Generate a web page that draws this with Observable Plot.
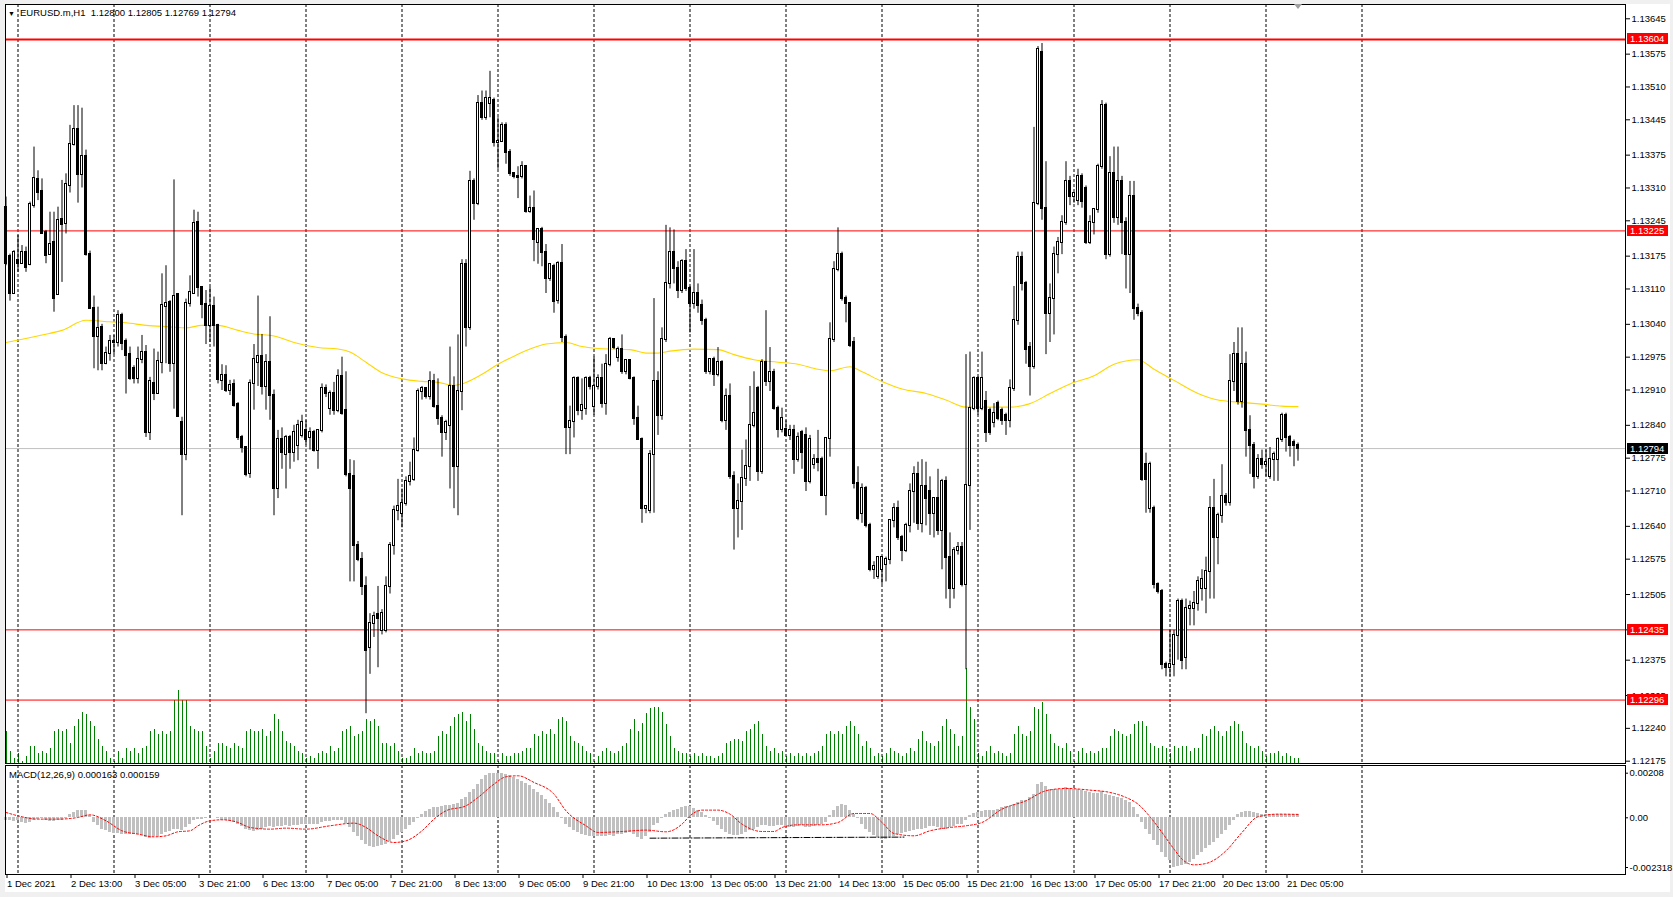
<!DOCTYPE html>
<html><head><meta charset="utf-8">
<script src="https://cdn.jsdelivr.net/npm/d3@7"></script>
<script src="https://cdn.jsdelivr.net/npm/@observablehq/plot@0.6"></script>
<style>
html,body{margin:0;padding:0;background:#f0f0f0;}
#wrap{position:relative;width:1673px;height:897px;overflow:hidden;background:#f0f0f0;font-family:"Liberation Sans",Arial,sans-serif;color:#000;}
#paper{position:absolute;left:5px;top:4px;width:1665px;height:888px;background:#fff;}
.tag{position:absolute;left:1627px;width:41px;height:11px;color:#fff;font-size:9.5px;line-height:11px;padding-left:3px;box-sizing:border-box;white-space:nowrap;}
.lbl{position:absolute;font-size:9.5px;line-height:11px;white-space:nowrap;}
</style></head><body>
<div id="wrap"><div id="paper"></div></div>
<script>
// ---------- DATA (EURUSD.m H1, bars 1 Dec 21:00 .. 21 Dec 08:00) ----------
const open = [
1.13272,1.13174,1.13102,1.13166,1.13161,1.13183,1.13158,1.13275,1.13326,1.13303,1.13222,1.13179,
1.13203,1.13100,1.13247,1.13239,1.13315,1.13396,1.13425,1.13337,1.13373,1.13178,1.13071,1.13016,
1.13034,1.12963,1.12983,1.13006,1.13004,1.13057,1.13006,1.12981,1.12952,1.12932,1.12971,1.12985,
1.12826,1.12923,1.12903,1.12965,1.13076,1.13084,1.12962,1.13099,1.12845,1.12782,1.13082,1.13102,
1.13242,1.13113,1.13080,1.13038,1.13075,1.13038,1.12929,1.12939,1.12909,1.12921,1.12882,1.12815,
1.12796,1.12745,1.12922,1.12965,1.12977,1.12917,1.12965,1.12900,1.12714,1.12811,1.12782,1.12816,
1.12787,1.12800,1.12820,1.12830,1.12815,1.12825,1.12791,1.12830,1.12912,1.12874,1.12903,1.12870,
1.12936,1.12869,1.12743,1.12738,1.12603,1.12574,1.12521,1.12400,1.12448,1.12465,1.12434,1.12434,
1.12521,1.12603,1.12671,1.12666,1.12685,1.12729,1.12733,1.12791,1.12907,1.12912,1.12898,1.12927,
1.12878,1.12854,1.12825,1.12840,1.12917,1.12758,1.12907,1.13159,1.13033,1.13323,1.13280,1.13478,
1.13449,1.13478,1.13483,1.13401,1.13403,1.13434,1.13381,1.13338,1.13333,1.13333,1.13352,1.13263,
1.13270,1.13202,1.13227,1.13183,1.13130,1.13154,1.13088,1.13161,1.13014,1.12835,1.12847,1.12932,
1.12869,1.12874,1.12932,1.12878,1.12917,1.12932,1.12883,1.12961,1.13009,1.12975,1.12990,1.12946,
1.12968,1.12932,1.12854,1.12811,1.12675,1.12671,1.12782,1.12927,1.12859,1.13009,1.13120,1.13183,
1.13150,1.13106,1.13164,1.13110,1.13081,1.13101,1.13077,1.13048,1.12946,1.12970,1.12941,1.12965,
1.12849,1.12898,1.12738,1.12675,1.12690,1.12735,1.12758,1.12840,1.12912,1.12748,1.12965,1.12927,
1.12944,1.12874,1.12832,1.12832,1.12820,1.12830,1.12772,1.12825,1.12820,1.12729,1.12762,1.12772,
1.12772,1.12702,1.12813,1.13009,1.13149,1.13178,1.13091,1.13081,1.13004,1.12724,1.12666,1.12714,
1.12641,1.12554,1.12540,1.12554,1.12564,1.12574,1.12651,1.12675,1.12617,1.12593,1.12641,1.12709,
1.12743,1.12646,1.12719,1.12709,1.12666,1.12695,1.12632,1.12729,1.12579,1.12516,1.12593,1.12598,
1.12525,1.12720,1.12874,1.12932,1.12874,1.12888,1.12869,1.12845,1.12883,1.12869,1.12859,1.12849,
1.12912,1.13048,1.13173,1.13120,1.12994,1.12956,1.13280,1.13579,1.13270,1.13062,1.13091,1.13178,
1.13202,1.13241,1.13323,1.13294,1.13285,1.13333,1.13309,1.13202,1.13241,1.13268,1.13352,1.13473,
1.13178,1.13338,1.13251,1.13323,1.13241,1.13178,1.13294,1.13072,1.13062,1.12762,1.12675,1.12675,
1.12525,1.12511,1.12366,1.12361,1.12366,1.12424,1.12492,1.12380,1.12477,1.12477,1.12487,1.12516,
1.12516,1.12550,1.12675,1.12617,1.12661,1.12699,1.12688,1.12927,1.12980,1.12888,1.12961,1.12830,
1.12801,1.12738,1.12772,1.12762,1.12738,1.12772,1.12772,1.12811,1.12859,1.12815,1.12806,1.12800];
const high = [
1.13292,1.13179,1.13186,1.13216,1.13196,1.13193,1.13282,1.13391,1.13344,1.13328,1.13226,1.13262,
1.13262,1.13272,1.13325,1.13338,1.13434,1.13473,1.13473,1.13468,1.13385,1.13185,1.13096,1.13074,
1.13040,1.12995,1.13018,1.13018,1.13067,1.13062,1.13011,1.12995,1.12958,1.12995,1.13018,1.12998,
1.12935,1.12991,1.12985,1.13140,1.13156,1.13087,1.13326,1.13100,1.12856,1.13090,1.13136,1.13266,
1.13262,1.13115,1.13107,1.13113,1.13094,1.13040,1.12960,1.12958,1.12929,1.12930,1.12885,1.12820,
1.12798,1.12930,1.13000,1.13096,1.13020,1.12980,1.13055,1.12910,1.12830,1.12835,1.12820,1.12820,
1.12840,1.12850,1.12860,1.12849,1.12835,1.12830,1.12830,1.12922,1.12920,1.12908,1.12925,1.12950,
1.12975,1.12946,1.12772,1.12770,1.12610,1.12588,1.12540,1.12467,1.12470,1.12521,1.12475,1.12540,
1.12608,1.12680,1.12733,1.12714,1.12738,1.12767,1.12815,1.12912,1.12917,1.12915,1.12946,1.12941,
1.12932,1.12859,1.12850,1.12995,1.12936,1.13019,1.13168,1.13168,1.13343,1.13328,1.13493,1.13502,
1.13502,1.13541,1.13488,1.13449,1.13439,1.13439,1.13386,1.13340,1.13352,1.13362,1.13352,1.13294,
1.13304,1.13227,1.13232,1.13198,1.13159,1.13159,1.13164,1.13198,1.13019,1.12878,1.12936,1.12936,
1.12932,1.12936,1.12937,1.12975,1.12940,1.12961,1.12980,1.13014,1.13010,1.12995,1.13019,1.12970,
1.12970,1.12936,1.12878,1.12815,1.12680,1.12790,1.13091,1.12946,1.13033,1.13236,1.13231,1.13227,
1.13164,1.13168,1.13188,1.13115,1.13188,1.13120,1.13088,1.13052,1.12970,1.12975,1.12994,1.12968,
1.12912,1.12922,1.12748,1.12724,1.12791,1.12811,1.12917,1.12946,1.12917,1.12970,1.13067,1.12994,
1.12951,1.12878,1.12874,1.12849,1.12840,1.12840,1.12825,1.12830,1.12835,1.12820,1.12782,1.12830,
1.12777,1.12815,1.13043,1.13164,1.13231,1.13183,1.13096,1.13083,1.13014,1.12758,1.12724,1.12719,
1.12646,1.12570,1.12579,1.12579,1.12579,1.12651,1.12685,1.12690,1.12622,1.12646,1.12724,1.12758,
1.12767,1.12772,1.12767,1.12738,1.12695,1.12753,1.12733,1.12738,1.12627,1.12598,1.12608,1.12608,
1.12980,1.12985,1.12936,1.12936,1.12985,1.12907,1.12874,1.12883,1.12888,1.12874,1.12864,1.12930,
1.13115,1.13183,1.13183,1.13125,1.13004,1.13430,1.13590,1.13596,1.13362,1.13120,1.13193,1.13212,
1.13255,1.13362,1.13333,1.13300,1.13347,1.13338,1.13314,1.13255,1.13268,1.13357,1.13483,1.13478,
1.13372,1.13391,1.13391,1.13333,1.13251,1.13323,1.13323,1.13080,1.13067,1.12785,1.12767,1.12680,
1.12528,1.12515,1.12371,1.12434,1.12434,1.12496,1.12496,1.12496,1.12492,1.12511,1.12540,1.12554,
1.12579,1.12699,1.12733,1.12666,1.12762,1.12705,1.12980,1.13004,1.13033,1.13033,1.12985,1.12859,
1.12806,1.12782,1.12791,1.12791,1.12796,1.12787,1.12815,1.12864,1.12864,1.12820,1.12811,1.12805];
const low = [
1.13156,1.13086,1.13100,1.13143,1.13160,1.13143,1.13156,1.13270,1.13285,1.13219,1.13160,1.13178,
1.13064,1.13099,1.13123,1.13219,1.13300,1.13393,1.13280,1.13310,1.13175,1.13070,1.12952,1.12948,
1.12948,1.12960,1.12967,1.12980,1.12995,1.12988,1.12902,1.12929,1.12922,1.12922,1.12962,1.12816,
1.12810,1.12889,1.12902,1.12942,1.12962,1.12945,1.12872,1.12856,1.12661,1.12770,1.13074,1.13100,
1.13094,1.13051,1.13000,1.13004,1.12995,1.12922,1.12909,1.12905,1.12899,1.12876,1.12810,1.12785,
1.12738,1.12735,1.12870,1.12917,1.12900,1.12870,1.12850,1.12661,1.12695,1.12753,1.12714,1.12753,
1.12767,1.12770,1.12815,1.12801,1.12791,1.12787,1.12753,1.12825,1.12895,1.12860,1.12860,1.12865,
1.12860,1.12738,1.12530,1.12530,1.12570,1.12503,1.12269,1.12347,1.12420,1.12360,1.12425,1.12429,
1.12506,1.12583,1.12651,1.12637,1.12680,1.12720,1.12729,1.12787,1.12890,1.12892,1.12890,1.12874,
1.12840,1.12777,1.12810,1.12714,1.12675,1.12661,1.12869,1.12995,1.13028,1.13246,1.13275,1.13444,
1.13444,1.13449,1.13391,1.13347,1.13401,1.13357,1.13333,1.13328,1.13289,1.13328,1.13260,1.13260,
1.13164,1.13159,1.13154,1.13101,1.13125,1.13062,1.13080,1.13004,1.12782,1.12782,1.12815,1.12859,
1.12850,1.12860,1.12910,1.12860,1.12910,1.12874,1.12860,1.12956,1.12990,1.12965,1.12941,1.12940,
1.12930,1.12840,1.12810,1.12646,1.12665,1.12665,1.12666,1.12820,1.12850,1.13004,1.13110,1.13120,
1.13091,1.13101,1.13105,1.13023,1.13070,1.13062,1.13038,1.12941,1.12940,1.12917,1.12936,1.12845,
1.12830,1.12733,1.12593,1.12617,1.12632,1.12719,1.12729,1.12835,1.12729,1.12743,1.12917,1.12907,
1.12870,1.12815,1.12825,1.12820,1.12810,1.12743,1.12767,1.12753,1.12709,1.12724,1.12753,1.12748,
1.12700,1.12661,1.12777,1.13004,1.13144,1.13086,1.13043,1.12994,1.12714,1.12651,1.12646,1.12637,
1.12550,1.12535,1.12535,1.12525,1.12530,1.12564,1.12637,1.12612,1.12570,1.12588,1.12627,1.12646,
1.12632,1.12627,1.12641,1.12622,1.12617,1.12622,1.12554,1.12496,1.12477,1.12496,1.12583,1.12520,
1.12356,1.12632,1.12869,1.12860,1.12869,1.12806,1.12820,1.12835,1.12849,1.12840,1.12820,1.12835,
1.12907,1.13038,1.13106,1.12961,1.12898,1.12951,1.13275,1.13246,1.12980,1.13004,1.13019,1.13140,
1.13178,1.13236,1.13275,1.13280,1.13275,1.13270,1.13198,1.13198,1.13217,1.13260,1.13347,1.13168,
1.13173,1.13240,1.13236,1.13178,1.13110,1.13101,1.13048,1.13055,1.12729,1.12666,1.12666,1.12516,
1.12506,1.12356,1.12342,1.12342,1.12342,1.12375,1.12356,1.12356,1.12443,1.12443,1.12472,1.12492,
1.12467,1.12496,1.12496,1.12564,1.12646,1.12680,1.12680,1.12907,1.12880,1.12874,1.12777,1.12743,
1.12714,1.12733,1.12753,1.12738,1.12733,1.12729,1.12729,1.12806,1.12787,1.12777,1.12758,1.12769];
const close = [
1.13160,1.13102,1.13183,1.13161,1.13183,1.13153,1.13277,1.13328,1.13301,1.13220,1.13176,1.13199,
1.13092,1.13245,1.13237,1.13317,1.13396,1.13425,1.13337,1.13373,1.13178,1.13072,1.13016,1.13031,
1.12962,1.12983,1.13006,1.13004,1.13057,1.13003,1.12978,1.12932,1.12932,1.12971,1.12985,1.12826,
1.12927,1.12903,1.12966,1.13077,1.13082,1.12962,1.13096,1.12857,1.12782,1.13081,1.13103,1.13240,
1.13112,1.13080,1.13038,1.13075,1.13038,1.12930,1.12939,1.12909,1.12919,1.12879,1.12815,1.12796,
1.12743,1.12922,1.12970,1.12977,1.12917,1.12965,1.12900,1.12714,1.12811,1.12787,1.12816,1.12787,
1.12825,1.12840,1.12845,1.12811,1.12825,1.12791,1.12830,1.12912,1.12903,1.12903,1.12870,1.12936,
1.12864,1.12743,1.12714,1.12603,1.12574,1.12521,1.12395,1.12448,1.12461,1.12458,1.12467,1.12521,
1.12603,1.12671,1.12680,1.12685,1.12729,1.12738,1.12791,1.12907,1.12912,1.12898,1.12927,1.12878,
1.12854,1.12825,1.12845,1.12917,1.12758,1.12907,1.13159,1.13033,1.13323,1.13280,1.13478,1.13449,
1.13488,1.13488,1.13401,1.13403,1.13434,1.13381,1.13338,1.13333,1.13330,1.13352,1.13263,1.13270,
1.13207,1.13227,1.13183,1.13130,1.13159,1.13086,1.13161,1.13014,1.12835,1.12847,1.12932,1.12869,
1.12880,1.12932,1.12917,1.12917,1.12932,1.12883,1.12961,1.13009,1.12994,1.12990,1.12946,1.12968,
1.12932,1.12854,1.12811,1.12675,1.12680,1.12782,1.12927,1.12859,1.13009,1.13120,1.13183,1.13150,
1.13106,1.13164,1.13110,1.13081,1.13101,1.13077,1.13048,1.12946,1.12970,1.12941,1.12965,1.12849,
1.12898,1.12738,1.12675,1.12690,1.12735,1.12758,1.12840,1.12864,1.12748,1.12965,1.12927,1.12944,
1.12874,1.12832,1.12854,1.12820,1.12830,1.12772,1.12815,1.12787,1.12729,1.12811,1.12772,1.12767,
1.12702,1.12813,1.13009,1.13149,1.13178,1.13091,1.13081,1.12999,1.12724,1.12656,1.12714,1.12641,
1.12554,1.12560,1.12579,1.12579,1.12574,1.12651,1.12675,1.12617,1.12593,1.12641,1.12709,1.12743,
1.12646,1.12719,1.12695,1.12666,1.12695,1.12632,1.12729,1.12579,1.12516,1.12593,1.12598,1.12525,
1.12720,1.12874,1.12932,1.12874,1.12932,1.12825,1.12825,1.12864,1.12854,1.12849,1.12849,1.12912,
1.13048,1.13173,1.13120,1.12990,1.12956,1.13280,1.13584,1.13270,1.13062,1.13091,1.13178,1.13202,
1.13241,1.13323,1.13294,1.13299,1.13333,1.13283,1.13202,1.13241,1.13268,1.13352,1.13473,1.13178,
1.13338,1.13251,1.13323,1.13241,1.13178,1.13294,1.13072,1.13062,1.12733,1.12733,1.12762,1.12525,
1.12511,1.12366,1.12361,1.12366,1.12424,1.12492,1.12375,1.12477,1.12482,1.12487,1.12530,1.12535,
1.12550,1.12675,1.12617,1.12661,1.12699,1.12688,1.12927,1.12980,1.12888,1.12961,1.12830,1.12801,
1.12738,1.12772,1.12762,1.12767,1.12772,1.12782,1.12811,1.12859,1.12815,1.12801,1.12800,1.12794];
// tick volume (hundreds of ticks)
const volume = [
32,12,5,10,2,7,17,17,10,12,10,15, 32,34,32,34,20,37,44,51,49,42,37,24,
17,12,5,2,12,5,15,12,15,10,15,17, 32,34,29,32,29,32,63,73,63,63,37,34,
32,32,17,5,12,20,20,17,15,20,17,15, 32,34,32,32,34,27,32,49,44,32,22,20,
17,12,10,5,7,5,10,12,10,17,12,15, 32,34,37,27,29,32,44,42,44,37,20,20,
17,20,12,5,5,7,15,10,12,10,10,12, 27,32,29,37,46,49,51,42,49,34,20,17,
12,10,10,2,10,7,7,10,10,12,15,15, 29,27,32,29,34,29,44,46,42,27,22,20,
17,12,10,2,7,12,15,12,10,12,17,20, 34,44,32,40,50,55,56,56,51,39,27,15,
12,10,10,7,10,7,10,7,7,5,7,10, 20,22,24,24,22,32,34,39,42,29,17,12,
15,10,12,7,10,7,10,7,10,7,10,12, 17,29,32,29,32,29,37,42,37,29,17,22,
15,7,10,7,10,15,12,10,7,10,15,12, 24,32,22,20,17,22,37,44,34,29,17,27,
95,56,44,10,7,12,17,10,12,10,7,10, 29,37,29,27,32,56,54,61,49,29,20,17,
15,20,12,2,12,15,10,12,10,12,15,15, 27,34,32,29,27,29,39,42,42,37,20,17,
15,17,15,10,17,15,17,17,12,15,15,29, 27,34,37,32,27,32,37,42,39,32,20,17,
15,17,12,7,10,10,12,7,10,7,5,5];
// MACD(12,26,9) main (histogram)
const macd = [
-0.000109,-0.00014,-0.000171,-0.00014,-0.000233,-0.000264,-0.000218,-0.00014,-0.000078,-0.000047,-0.000109,-0.000171,
-0.000187,-0.00014,-0.000109,-0.000016,0.00014,0.000249,0.000327,0.000358,0.000327,0.000093,-0.000218,-0.000373,
-0.000529,-0.000606,-0.000684,-0.000731,-0.000731,-0.000762,-0.000762,-0.000793,-0.000793,-0.000793,-0.00084,-0.000917,
-0.000949,-0.000886,-0.000855,-0.000762,-0.000684,-0.000638,-0.000529,-0.000529,-0.000606,-0.000451,-0.000327,-0.00014,
-0.000078,-0.000078,-0.000047,0.000016,0.000016,-0.000016,-0.000109,-0.00014,-0.000171,-0.000218,-0.000327,-0.00042,
-0.000529,-0.000606,-0.000638,-0.000606,-0.000529,-0.000451,-0.000389,-0.000451,-0.00042,-0.000389,-0.000358,-0.000389,
-0.000373,-0.000358,-0.000295,-0.000295,-0.000327,-0.000327,-0.000295,-0.000233,-0.000171,-0.000171,-0.00014,-0.000109,
-0.000109,-0.000264,-0.000451,-0.000684,-0.000886,-0.001073,-0.00126,-0.001353,-0.001384,-0.001353,-0.001306,-0.001228,
-0.001104,-0.000995,-0.00084,-0.000684,-0.000529,-0.000373,-0.000218,-0.000016,0.000171,0.000295,0.000404,0.000482,
0.000482,0.000513,0.00056,0.000591,0.000606,0.000669,0.000871,0.000949,0.001182,0.001337,0.001571,0.001804,
0.001959,0.002068,0.00208,0.00208,0.002068,0.002006,0.001959,0.001882,0.001804,0.001695,0.001602,0.001493,
0.001337,0.001182,0.001026,0.000871,0.000669,0.000482,0.000249,-0.000016,-0.000295,-0.000451,-0.000606,-0.000684,
-0.000793,-0.00084,-0.000855,-0.000886,-0.000886,-0.000886,-0.000855,-0.000824,-0.000855,-0.000793,-0.000762,-0.000731,
-0.000684,-0.000793,-0.000917,-0.000995,-0.000886,-0.000684,-0.000373,-0.000264,-0.000016,0.000171,0.000249,0.000327,
0.000404,0.000482,0.000513,0.000513,0.000451,0.000358,0.000249,0.000093,-0.000016,-0.000171,-0.000373,-0.000529,
-0.000684,-0.000762,-0.00084,-0.00084,-0.000793,-0.000684,-0.000606,-0.000529,-0.000451,-0.000373,-0.000373,-0.00042,
-0.000389,-0.000358,-0.000373,-0.00042,-0.000451,-0.000451,-0.00042,-0.000373,-0.000451,-0.000451,-0.00042,-0.000373,
-0.000327,-0.000218,0.000093,0.000358,0.000513,0.000606,0.00056,0.000327,0.000171,-0.000016,-0.000295,-0.000529,
-0.000684,-0.00084,-0.000917,-0.000995,-0.000995,-0.000949,-0.000886,-0.000793,-0.000731,-0.000684,-0.000638,-0.000606,
-0.000544,-0.000529,-0.000482,-0.00042,-0.000389,-0.000451,-0.000529,-0.000529,-0.000451,-0.000389,-0.000327,-0.000295,
-0.000109,0.000093,0.000202,0.000264,0.000295,0.000327,0.000358,0.000358,0.000404,0.000482,0.000513,0.000513,
0.000606,0.000715,0.000793,0.000824,0.000949,0.001104,0.001571,0.001633,0.001446,0.001337,0.001322,0.001337,
0.001337,0.001415,0.001384,0.001337,0.001322,0.001291,0.001228,0.001182,0.001135,0.001135,0.001228,0.001104,
0.001026,0.00098,0.000949,0.000917,0.000824,0.000715,0.000482,0.000171,-0.000218,-0.000529,-0.000762,-0.001073,
-0.001306,-0.001617,-0.00185,-0.002006,-0.002318,-0.002286,-0.002239,-0.002161,-0.002084,-0.001928,-0.001773,-0.001617,
-0.001415,-0.001306,-0.001151,-0.000949,-0.000793,-0.000606,-0.000373,-0.00014,0.000171,0.000249,0.00028,0.00028,
0.000249,0.000202,0.000171,0.000171,0.000171,0.000171,0.000171,0.000171,0.000171,0.000168,0.000165,0.000163];
// MACD signal line, read at these bars
const sigBar = [0,3,8,13,18,21,25,29,33,37,40,43,46,48,51,54,58,61,66,70,75,81,87,90,93,97,100,104,107,110,
115,118,122,125,128,132,137,140,145,148,154,160,165,169,171,174,178,181,184,189,192,194,198,204,208,212,216,219,222,227,
231,236,240,244,249,255,260,265,271,276,280,283,286,289,292,294,297,300,302,305,309,313,318,323];
const sigVal = [0.000249,0.000093,-0.000062,-0.000062,0.000016,0.00014,-0.00014,-0.000606,-0.000762,-0.000886,
-0.00084,-0.000653,-0.000606,-0.000373,-0.00014,-0.000093,-0.000218,-0.000451,-0.000529,-0.000482,
-0.000529,-0.000373,-0.000249,-0.000451,-0.00084,-0.001151,-0.001073,-0.000606,-0.000062,0.000327,
0.00056,0.000949,0.001571,0.001913,0.001959,0.001648,0.001104,0.000327,-0.000373,-0.000684,
-0.000638,-0.000575,-0.000653,-0.000295,0.000093,0.000358,0.000358,0.000171,-0.000295,-0.000638,
-0.000638,-0.000451,-0.000327,-0.000327,-0.000218,0.000202,0.000202,-0.000218,-0.000731,-0.00084,
-0.000606,-0.000451,-0.000373,-0.000218,0.000404,0.000793,0.00126,0.001368,0.001291,0.001182,
0.000949,0.000638,0.000047,-0.000684,-0.001462,-0.001928,-0.002193,-0.00213,-0.001975,-0.001539,
-0.000684,0.000047,0.000171,0.000159];
// moving average (yellow), read at these bars
const maBar = [0,9,14,20,26,30,35,41,45,49,53,58,62,67,72,78,83,86,90,94,99,104,108,112,114,119,123,127,131,135,
140,144,148,152,156,160,163,166,172,178,182,187,193,198,203,206,211,214,219,224,230,235,240,245,251,256,261,266,272,277,
283,287,292,298,303,308,314,319,323];
const maPrice = [1.13004,1.13019,1.13028,1.13048,1.13045,1.13043,1.13038,1.13035,1.13033,1.13038,
1.13038,1.13028,1.13021,1.13017,1.13004,1.12994,1.12991,1.12985,1.12965,1.12944,
1.12932,1.12927,1.12925,1.12919,1.12922,1.12941,1.12961,1.12977,1.12991,1.13001,
1.13004,1.12996,1.12992,1.12991,1.1299,1.12983,1.12983,1.12987,1.12991,1.1299,
1.1298,1.1297,1.12965,1.12961,1.12951,1.12948,1.12956,1.12946,1.12927,1.12912,
1.12903,1.1289,1.12876,1.12876,1.12876,1.12883,1.12903,1.12922,1.12938,1.12961,
1.1297,1.12951,1.12929,1.12903,1.1289,1.12886,1.12882,1.12878,1.12877];
// horizontal levels
const redLevelThick = [1.13604];
const redLevels = [1.13225, 1.12435, 1.12296];
const bidPrice = 1.12794;
// dash-dot trend line in MACD window
const trendBar = [161, 224.5];
const trendVal = [-0.00095, -0.0009];
// axes
const priceTicks = [1.13645,1.13575,1.1351,1.13445,1.13375,1.1331,1.13245,1.13175,1.1311,1.1304,1.12975,1.1291,
1.1284,1.12775,1.1271,1.1264,1.12575,1.12505,1.12435,1.12375,1.12305,1.1224,1.12175];
const macdTicks = [0.00208, 0, -0.002318];
const macdTickLabels = ["0.00208", "0.00", "-0.002318"];
const timeBars = [0,16,32,48,64,80,96,112,128,144,160,176,192,208,224,240,256,272,288,304,320];
const timeLabels = ["1 Dec 2021","2 Dec 13:00","3 Dec 05:00","3 Dec 21:00","6 Dec 13:00","7 Dec 05:00","7 Dec 21:00",
"8 Dec 13:00","9 Dec 05:00","9 Dec 21:00","10 Dec 13:00","13 Dec 05:00","13 Dec 21:00","14 Dec 13:00","15 Dec 05:00",
"15 Dec 21:00","16 Dec 13:00","17 Dec 05:00","17 Dec 21:00","20 Dec 13:00","21 Dec 05:00"];
const dayBreaks = [3,27,51,75,99,123,147,171,195,219,243,267,291,315,339];

// ---------- DRAW ----------
const wrap = document.getElementById("wrap");
const N = close.length;
const candles = d3.range(N).map(i => ({i, o: open[i], h: high[i], l: low[i], c: close[i], v: volume[i], m: macd[i]}));
const maPts = maBar.map((b, k) => ({b, p: maPrice[k]}));
const sigPts = sigBar.map((b, k) => ({b, s: sigVal[k]}));
const trendPts = trendBar.map((b, k) => ({b, t: trendVal[k]}));
const font = '"Liberation Sans", Arial, sans-serif';
const style = {background: "transparent", fontFamily: font, fontSize: "9.5px", color: "#000", overflow: "visible"};
const xDom = [-0.125, 404.875];
const common = {width: 1673, marginLeft: 5, marginRight: 48, style};

function place(el, top) {
  el.style.position = "absolute"; el.style.left = "0px"; el.style.top = top + "px";
  el.style.maxWidth = "none";
  wrap.appendChild(el);
}

// volumes (separate scale, overlaid at the bottom of the price window)
const volPlot = Plot.plot({
  ...common, height: 764, marginTop: 4, marginBottom: 1,
  x: {domain: xDom, axis: null, label: null},
  y: {domain: [0, 100], range: [763, 663], axis: null, label: null},
  marks: [
    Plot.ruleX(candles, {x: "i", y1: 0, y2: "v", stroke: "#008000", strokeWidth: 1, shapeRendering: "crispEdges"})
  ]
});
place(volPlot, 0);

// price window
const mainPlot = Plot.plot({
  ...common, height: 764, marginTop: 4, marginBottom: 1,
  x: {domain: xDom, axis: null, label: null},
  y: {domain: [1.121704, 1.136733], axis: null, label: null},
  marks: [
    Plot.ruleX(dayBreaks, {stroke: "#000", strokeDasharray: "3,2", strokeWidth: 1}),
    Plot.ruleY([bidPrice], {stroke: "#c0c0c0", strokeWidth: 1}),
    Plot.ruleY(redLevels, {stroke: "#ff0000", strokeWidth: 1}),
    Plot.ruleY(redLevelThick, {stroke: "#ff0000", strokeWidth: 2}),
    Plot.line(maPts, {x: "b", y: "p", stroke: "#ffd700", strokeWidth: 1.1, curve: "monotone-x"}),
    Plot.ruleX(candles, {x: "i", y1: "l", y2: "h", stroke: "#000", strokeWidth: 1}),
    Plot.rect(candles, {x1: d => d.i - 0.25, x2: d => d.i + 0.25, y1: "o", y2: "c",
      fill: d => d.c >= d.o ? "#fff" : "#000", stroke: "#000", strokeWidth: 1,
      insetTop: -0.5, insetBottom: -0.5, shapeRendering: "crispEdges"}),
    Plot.frame({stroke: "#000", shapeRendering: "crispEdges"}),
    Plot.axisY({anchor: "right", label: null, ticks: priceTicks, tickFormat: d => d.toFixed(5), tickSize: 4, tickPadding: 2, fill: "#000"})
  ]
});
place(mainPlot, 0);

// MACD window + time axis
const macdPlot = Plot.plot({
  ...common, height: 137, marginTop: 5, marginBottom: 23,
  x: {domain: xDom, axis: null, label: null},
  y: {domain: [-0.002644, 0.002439], axis: null, label: null},
  marks: [
    Plot.ruleX(dayBreaks, {stroke: "#000", strokeDasharray: "3,2", strokeWidth: 1}),
    Plot.rect(candles, {x1: d => d.i - 0.375, x2: d => d.i + 0.375, y1: 0, y2: "m", fill: "#c0c0c0", shapeRendering: "crispEdges"}),
    Plot.line(sigPts, {x: "b", y: "s", stroke: "#ff0000", strokeWidth: 1, strokeDasharray: "2,2", curve: "monotone-x"}),
    Plot.line(trendPts, {x: "b", y: "t", stroke: "#000", strokeWidth: 1, strokeDasharray: "6,2,1,2"}),
    Plot.frame({stroke: "#000", shapeRendering: "crispEdges"}),
    Plot.axisY({anchor: "right", label: null, ticks: macdTicks, tickFormat: d => macdTickLabels[macdTicks.indexOf(d)], tickSize: 2, tickPadding: 2, fill: "#000"}),
    Plot.axisX({anchor: "bottom", label: null, ticks: timeBars, tickFormat: d => timeLabels[timeBars.indexOf(d)], tickSize: 4, tickPadding: 2, textAnchor: "start", dx: 1, fill: "#000"})
  ]
});
place(macdPlot, 760);

// price tags on the right axis
const ys = mainPlot.scale("y");
const tags = [
  ...redLevelThick.map(v => ({v, bg: "#ff0000"})),
  ...redLevels.map(v => ({v, bg: "#ff0000"})),
  {v: bidPrice, bg: "#000"}
];
for (const t of tags) {
  const d = document.createElement("div");
  d.className = "tag";
  d.style.background = t.bg;
  d.style.top = (ys.apply(t.v) - 5.5) + "px";
  d.textContent = t.v.toFixed(5);
  wrap.appendChild(d);
}

// header texts
const arrow = document.createElement("div");
arrow.className = "lbl"; arrow.style.left = "8px"; arrow.style.top = "8px"; arrow.style.fontSize = "7px";
arrow.textContent = "▼";
wrap.appendChild(arrow);
const head = document.createElement("div");
head.className = "lbl"; head.style.left = "20px"; head.style.top = "7px";
head.textContent = "EURUSD.m,H1  1.12800 1.12805 1.12769 1.12794";
head.style.whiteSpace = "pre";
wrap.appendChild(head);
const mh = document.createElement("div");
mh.className = "lbl"; mh.style.left = "9px"; mh.style.top = "769px";
mh.textContent = "MACD(12,26,9) 0.000163 0.000159";
wrap.appendChild(mh);
// chart-shift marker
const shift = document.createElement("div");
shift.style.cssText = "position:absolute;left:1294px;top:4px;width:0;height:0;border-left:4px solid transparent;border-right:4px solid transparent;border-top:5px solid #a0a0a0;";
wrap.appendChild(shift);
</script>
</body></html>
